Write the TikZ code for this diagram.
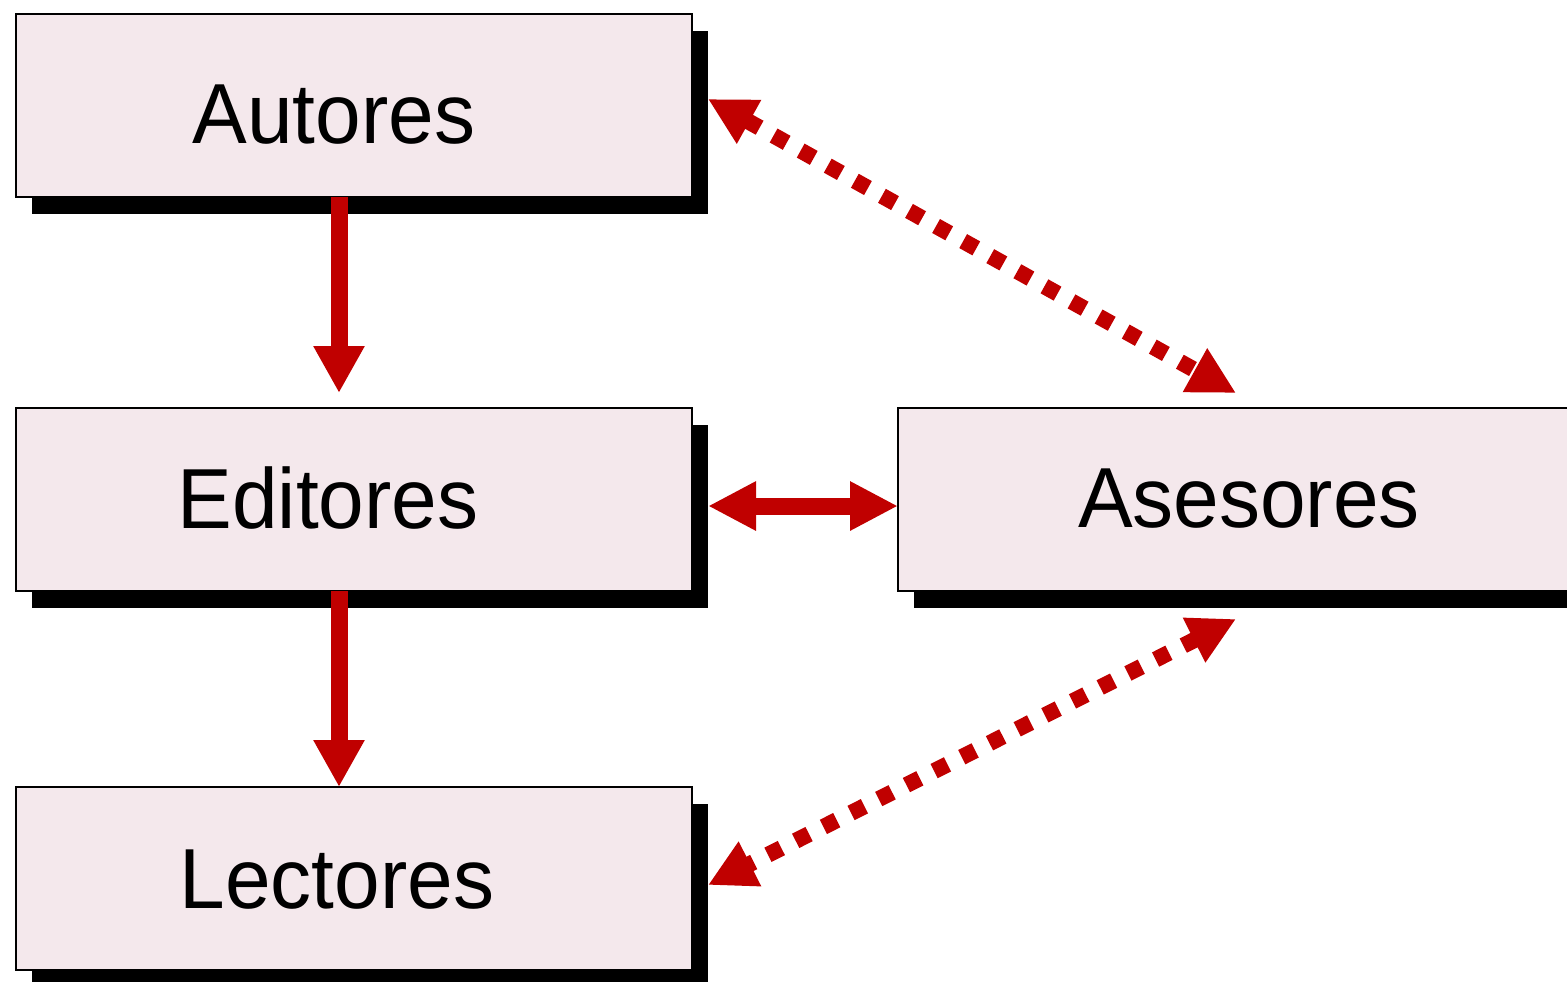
\documentclass[tikz,border=0pt]{standalone}
\usepackage{fontspec}
\setmainfont{Liberation Sans}
\usetikzlibrary{arrows.meta,shadows}
\definecolor{boxfill}{RGB}{244,232,236}
\definecolor{arrred}{RGB}{192,0,0}
\begin{document}
\begin{tikzpicture}[x=0.5pt,y=-0.5pt,
  box/.style={draw=black, line width=0.9pt, fill=boxfill, minimum width=338pt, minimum height=91.5pt, inner sep=0pt, outer sep=0pt,
    drop shadow={shadow xshift=8pt, shadow yshift=-8.5pt, fill=black, opacity=1}},
  lbl/.style={font=\fontsize{41}{48}\selectfont, anchor=base, inner sep=0pt, yscale=1.04},
  solidarr/.style={draw=arrred, line width=8.5pt, -{Triangle[length=23.5pt,width=24pt]}},
  dblarr/.style={draw=arrred, line width=8.5pt, {Triangle[length=24pt,width=23pt]}-{Triangle[length=24pt,width=23pt]}},
  dotarr/.style={draw=arrred, line width=8pt, dash pattern=on 7.5pt off 8pt, {Triangle[length=23.5pt,width=23.5pt]}-{Triangle[length=23.5pt,width=23.5pt]}}]
\useasboundingbox (0,0) rectangle (1567,981);
\clip (0,0) rectangle (1567,981);
\node[box] (autores) at (354,105.5) {};
\node[box] (editores) at (354,499.5) {};
\node[box] (lectores) at (354,878.5) {};
\node[box] (asesores) at (1236,499.5) {};
\node[lbl] (tautores) at (334,143) {Autores};
\node[lbl] (teditores) at (328,528) {Editores};
\node[lbl] (tlectores) at (337,908) {Lectores};
\node[lbl] (tasesores) at (1249,527) {Asesores};
\draw[solidarr] ([xshift=-7.5pt]autores.south) -- ([xshift=-7.5pt,yshift=7.5pt]editores.north);
\draw[solidarr] ([xshift=-7.5pt]editores.south) -- ([xshift=-7.5pt]lectores.north);
\draw[dblarr] ([xshift=8pt,yshift=-3.25pt]editores.east) -- ([yshift=-3.25pt]asesores.west);
\draw[dotarr] ([xshift=8pt,yshift=3.25pt]autores.east) -- ([yshift=7.5pt]asesores.north);
\draw[dotarr] ([yshift=-14pt]asesores.south) -- ([xshift=8pt,yshift=-3.25pt]lectores.east);
\end{tikzpicture}
\end{document}
